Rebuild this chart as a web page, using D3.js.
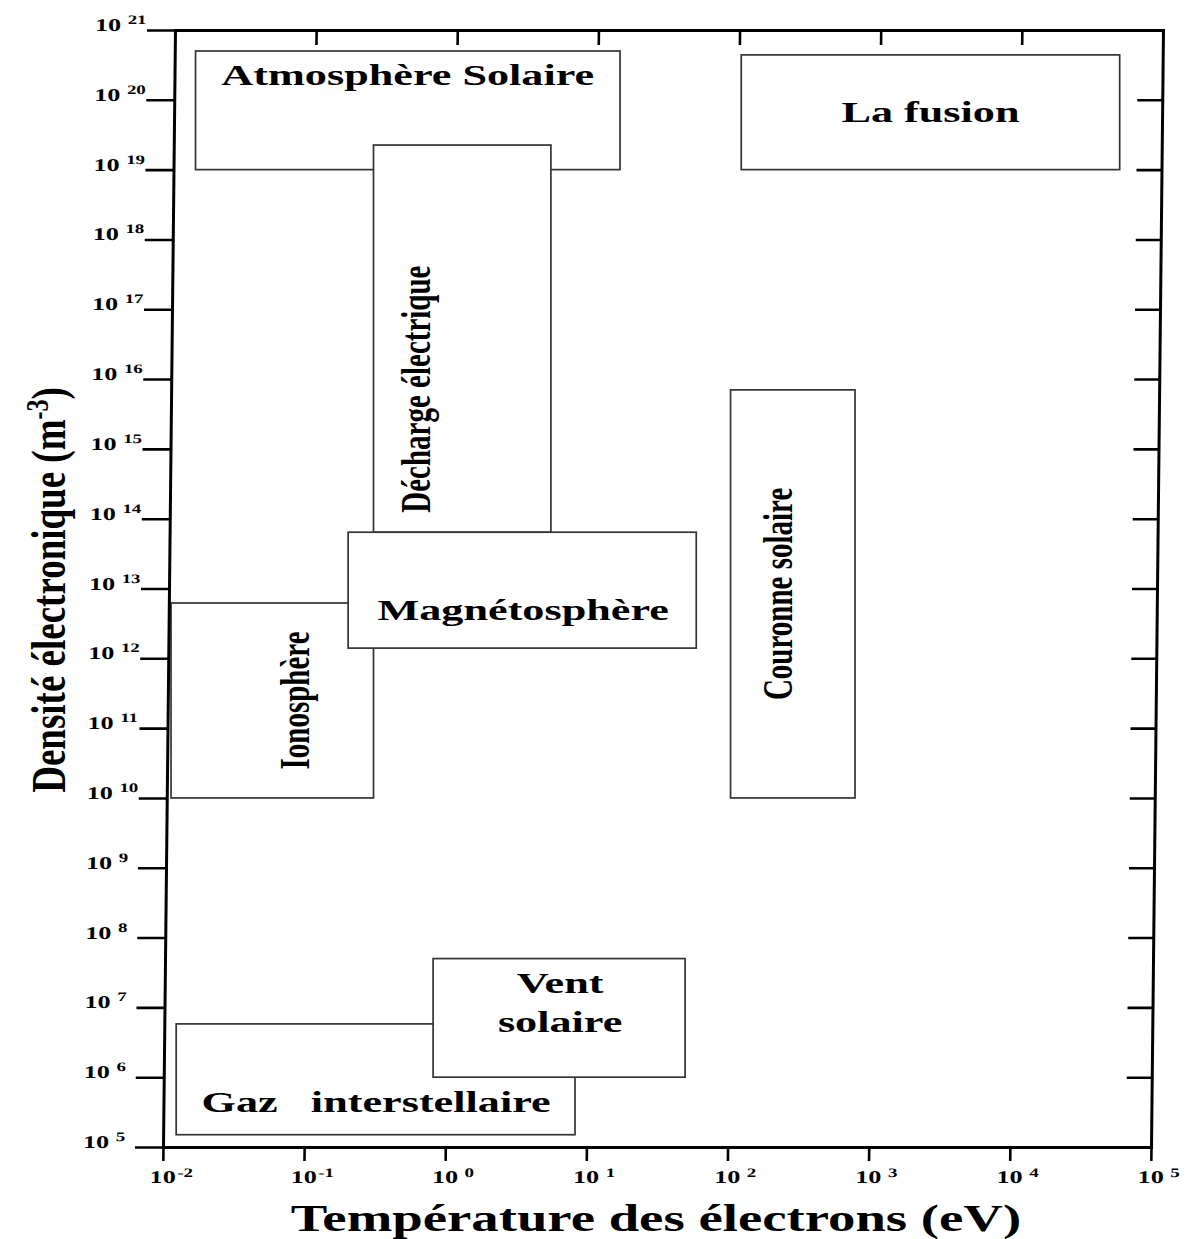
<!DOCTYPE html>
<html>
<head>
<meta charset="utf-8">
<script src="https://cdn.jsdelivr.net/npm/d3@7"></script>
<style>
body { margin: 0; background: #fff; }
text { font-family: "Liberation Serif", "Times New Roman", serif; font-weight: bold; fill: #000; }
</style>
</head>
<body>
<div class="canva"></div>
<script>
// plasma regions: electron temperature (eV) and electron density (m^-3)
const regions = ["Atmosphère Solaire", "Décharge électrique", "Ionosphère", "Magnétosphère",
                 "La fusion", "Couronne solaire", "Gaz interstellaire", "Vent solaire"];
const tempMin = [0.017, 0.31, 0.0114, 0.205, 125, 105, 0.0124, 0.82];
const tempMax = [17.3, 5.6, 0.31, 60, 60000, 800, 8.3, 50];
const densMin = [1e19, 6.4e13, 1e10, 1.4e12, 1e19, 1e10, 1.5e5, 1e6];
const densMax = [5e20, 2.25e19, 6.2e12, 6.4e13, 4.4e20, 7e15, 5.8e6, 5e7];

const labelLines = [["Atmosphère Solaire"], ["Décharge électrique"], ["Ionosphère"], ["Magnétosphère"],
                    ["La fusion"], ["Couronne solaire"], ["Gaz\u00a0\u00a0\u00a0interstellaire"], ["Vent", "solaire"]];

const xTickExp = [-2, -1, 0, 1, 2, 3, 4, 5];
const yTickExp = [5, 6, 7, 8, 9, 10, 11, 12, 13, 14, 15, 16, 17, 18, 19, 20, 21];

const width = 1190, height = 1239;
const plot = {left: 163, right: 1151, top: 30, bottom: 1147};

// the scanned figure is stretched sideways and its frame leans a little
const stretch = 1.45;
const skew = -Math.atan(12 / (plot.bottom - plot.top)) * 180 / Math.PI;

// label placement, px from box centre
const labelPos = [
  {dx: 0, dy: [-25.5]},
  {rot: true, dx: -32, dy: 50.5},
  {rot: true, dx: 37, dy: 0},
  {dx: 1, dy: [30]},
  {dx: 0, dy: [10]},
  {rot: true, dx: -1, dy: 0},
  {dx: 0.5, dy: [32.5]},
  {dx: 1, dy: [-25, 14]}
];

const svg = d3.select(".canva").append("svg")
    .attr("width", width)
    .attr("height", height);

svg.append("rect").attr("width", width).attr("height", height).attr("fill", "#fff");

const x = d3.scaleLog().domain([1e-2, 1e5]).range([plot.left, plot.right]);
const y = d3.scaleLog().domain([1e5, 1e21]).range([plot.bottom, plot.top]);

const boxes = regions.map((name, i) => ({
  name, lines: labelLines[i], pos: labelPos[i],
  x0: x(tempMin[i]), x1: x(tempMax[i]), y0: y(densMax[i]), y1: y(densMin[i])
}));

// boxes
const boxG = svg.append("g");
boxG.selectAll("rect")
    .data(boxes)
    .enter().append("rect")
    .attr("x", d => d.x0)
    .attr("y", d => d.y0)
    .attr("width", d => d.x1 - d.x0)
    .attr("height", d => d.y1 - d.y0)
    .attr("fill", "#fff")
    .attr("stroke", "#333")
    .attr("stroke-width", 1.7);

// box labels
boxes.forEach(d => {
  const cx = (d.x0 + d.x1) / 2 + d.pos.dx;
  const cy = (d.y0 + d.y1) / 2;
  if (d.pos.rot) {
    boxG.append("text")
        .attr("transform", `translate(${cx},${cy + d.pos.dy}) scale(${stretch},1) rotate(-90)`)
        .attr("text-anchor", "middle")
        .attr("font-size", 29)
        .text(d.lines[0]);
  } else {
    d.lines.forEach((line, k) => {
      boxG.append("text")
          .attr("transform", `translate(${cx},${cy + d.pos.dy[k]}) scale(${stretch},1)`)
          .attr("text-anchor", "middle")
          .attr("font-size", 30.5)
          .text(line);
    });
  }
});

// frame
const frame = svg.append("g")
    .attr("transform", `translate(0,${plot.bottom}) skewX(${skew}) translate(0,${-plot.bottom})`);

function styleAxis(g) {
  g.select(".domain").attr("stroke", "#000").attr("stroke-width", 3).attr("stroke-linecap", "square");
  g.selectAll(".tick line").attr("stroke", "#000").attr("stroke-width", 2.6);
}

frame.append("g")
    .attr("transform", `translate(0,${plot.bottom})`)
    .call(d3.axisBottom(x).tickValues(xTickExp.map(e => 10 ** e)).tickSize(14).tickSizeOuter(0).tickFormat(""))
    .call(styleAxis);

frame.append("g")
    .attr("transform", `translate(0,${plot.top})`)
    .call(d3.axisTop(x).tickValues(xTickExp.slice(1, -1).map(e => 10 ** e)).tickSize(-15).tickSizeOuter(0).tickFormat(""))
    .call(styleAxis);

frame.append("g")
    .attr("transform", `translate(${plot.left},0)`)
    .call(d3.axisLeft(y).tickValues(yTickExp.map(e => 10 ** e)).tickSize(28).tickSizeOuter(0).tickFormat(""))
    .call(styleAxis);

frame.append("g")
    .attr("transform", `translate(${plot.right},0)`)
    .call(d3.axisRight(y).tickValues(yTickExp.slice(1, -1).map(e => 10 ** e)).tickSize(-25).tickSizeOuter(0).tickFormat(""))
    .call(styleAxis);

// tick labels, "10" with raised exponent
frame.append("g").selectAll("text")
    .data(yTickExp)
    .enter().append("text")
    .attr("transform", d => `translate(${plot.left - 80},${y(10 ** d) + 1}) scale(${stretch},1)`)
    .attr("font-size", 18)
    .each(function(d) {
      const t = d3.select(this);
      t.append("tspan").text("10");
      t.append("tspan").attr("dx", 4.5).attr("dy", -7).attr("font-size", 13).text(d);
    });

frame.append("g").selectAll("text")
    .data(xTickExp)
    .enter().append("text")
    .attr("transform", d => `translate(${x(10 ** d) - 13},1183) scale(${stretch},1)`)
    .attr("font-size", 18)
    .each(function(d) {
      const t = d3.select(this);
      t.append("tspan").text("10");
      t.append("tspan").attr("dx", d < 0 ? 1 : 4.5).attr("dy", -6).attr("font-size", 13).text(d);
    });

// axis titles
svg.append("text")
    .attr("transform", `translate(656,1231) scale(1.48,1)`)
    .attr("text-anchor", "middle")
    .attr("font-size", 37)
    .text("Température des électrons (eV)");

const yTitle = svg.append("text")
    .attr("transform", `translate(65,590) scale(1.3,1) rotate(-90)`)
    .attr("text-anchor", "middle")
    .attr("font-size", 37);
yTitle.append("tspan").text("Densité électronique (m");
yTitle.append("tspan").attr("dy", -13).attr("font-size", 24).text("-3");
yTitle.append("tspan").attr("dy", 13).text(")");
</script>
</body>
</html>
